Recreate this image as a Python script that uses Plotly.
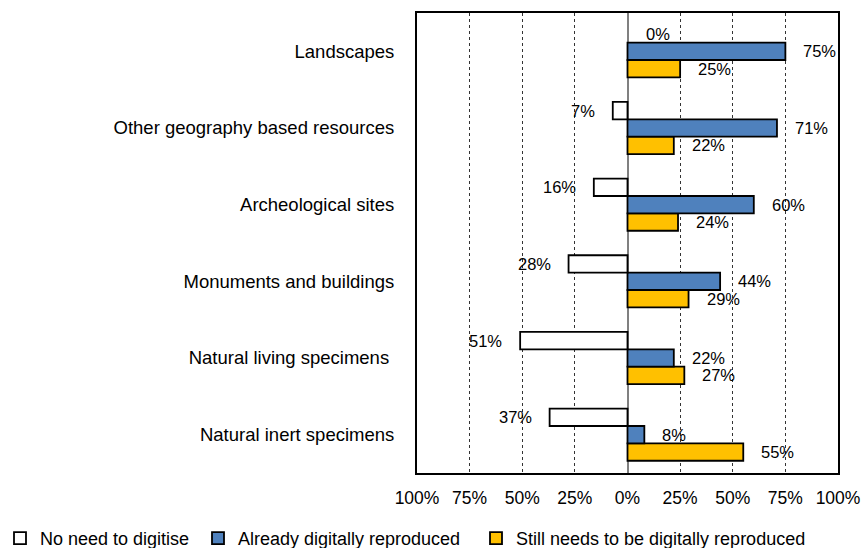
import plotly.graph_objects as go

# Categories listed bottom-to-top (as in the source spreadsheet)
categories = ["Natural inert specimens", "Natural living specimens", "Monuments and buildings",
              "Archeological sites", "Other geography based resources", "Landscapes"]
category_labels = ["Natural inert specimens", "Natural living specimens\u00a0", "Monuments and buildings",
                   "Archeological sites", "Other geography based resources", "Landscapes"]
no_need = [37, 51, 28, 16, 7, 0]
already = [8, 22, 44, 60, 71, 75]
still = [55, 27, 29, 24, 22, 25]
series_names = ["No need to digitise", "Already digitally reproduced", "Still needs to be digitally reproduced"]
series_colors = ["#FFFFFF", "#4F81BD", "#FFC000"]
tick_vals = [-100, -75, -50, -25, 0, 25, 50, 75, 100]
tick_text = ["100%", "75%", "50%", "25%", "0%", "25%", "50%", "75%", "100%"]

W, H = 864, 548
ML, MR, MT, MB = 417, 26, 13, 75
BARGAP = 0.32
FONT = "Liberation Sans, Arial, sans-serif"
legend_ids = ["legend", "legend2", "legend3"]
legend_left_px = [-12, 198, 476]

series_raw = [no_need, already, still]
series_signed = [[-v for v in no_need], already, still]

fig = go.Figure()
# add bottom-most bar of each group first (Still needs), top-most last (No need)
for idx in [2, 1, 0]:
    vals = series_signed[idx]
    fig.add_trace(go.Bar(
        y=categories, x=vals, orientation="h", name=series_names[idx], legend=legend_ids[idx],
        marker=dict(color=series_colors[idx],
                    line=dict(color="#000000", width=[0 if v == 0 else 1.8 for v in vals])),
        hoverinfo="skip",
    ))

plot_h = H - MT - MB
bar_px = plot_h / len(categories) * (1 - BARGAP) / 3
annotations = []
for idx in range(3):
    shift_y = (1 - idx) * bar_px
    for cat, v, r in zip(categories, series_signed[idx], series_raw[idx]):
        pos = v >= 0
        annotations.append(dict(
            x=v, y=cat, xref="x", yref="y", text=f"{r}%", showarrow=False,
            xanchor="left" if pos else "right", xshift=16 if pos else -16,
            yshift=shift_y, font=dict(family=FONT, size=16.5, color="#000000"),
        ))

legend_common = dict(orientation="h", xref="container", yref="container",
                     xanchor="left", yanchor="middle", y=(H - 538.5) / H,
                     font=dict(family=FONT, size=18, color="#000000"),
                     itemwidth=30, bgcolor="rgba(0,0,0,0)")
legend_layout = {lid: dict(legend_common, x=px / W) for lid, px in zip(legend_ids, legend_left_px)}

fig.update_layout(
    width=W, height=H,
    margin=dict(l=ML, r=MR, t=MT, b=MB, autoexpand=False),
    barmode="group", bargap=BARGAP, bargroupgap=0,
    plot_bgcolor="#FFFFFF", paper_bgcolor="#FFFFFF",
    font=dict(family=FONT, size=17.5, color="#000000"),
    annotations=annotations,
    showlegend=True,
    xaxis=dict(range=[-100, 100], tickvals=tick_vals, ticktext=tick_text,
               showgrid=True, gridcolor="#333333", gridwidth=1, griddash="dot",
               zeroline=True, zerolinecolor="#808080", zerolinewidth=2,
               showline=True, linecolor="#000000", linewidth=2, mirror=True,
               ticks="", ticklabelstandoff=8, tickfont=dict(size=17.5)),
    yaxis=dict(type="category", categoryorder="array", categoryarray=categories,
               tickvals=categories, ticktext=category_labels,
               showgrid=False, zeroline=False,
               showline=True, linecolor="#000000", linewidth=2, mirror=True,
               ticks="", ticklabelstandoff=17, tickfont=dict(size=18.5)),
    **legend_layout,
)

fig.write_html("out.html", config={"displayModeBar": False},
               post_script="document.body.style.margin='0px';document.body.style.overflow='hidden';")
